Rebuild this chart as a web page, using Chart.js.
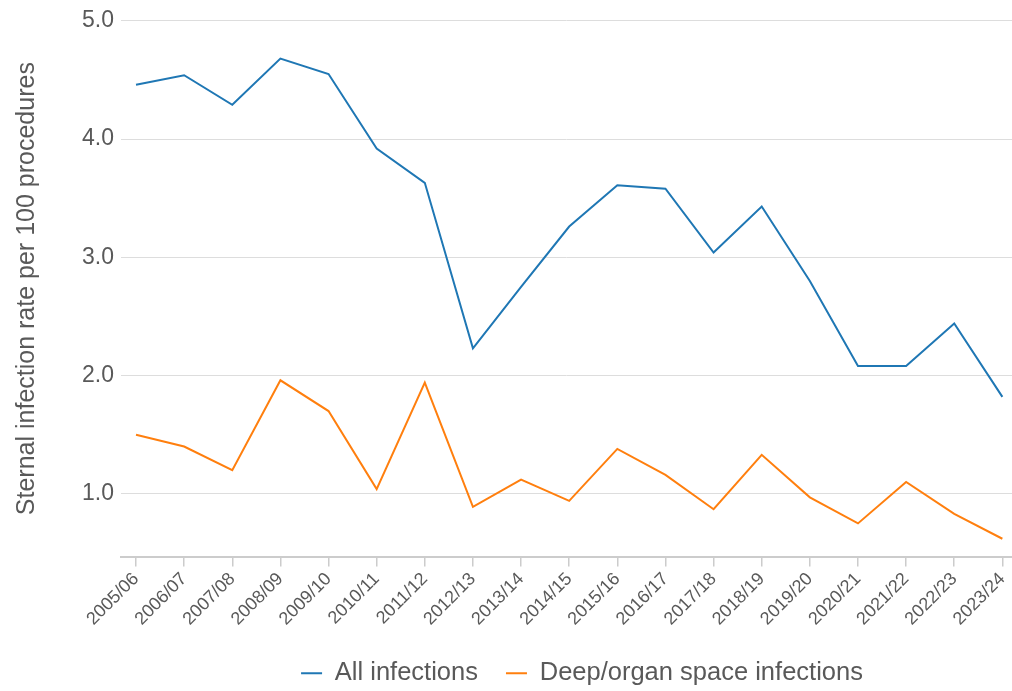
<!DOCTYPE html>
<html>
<head>
<meta charset="utf-8">
<script src="https://cdn.jsdelivr.net/npm/chart.js@4/dist/chart.umd.min.js"></script>
<style>
  html, body { margin: 0; padding: 0; background: #ffffff; overflow: hidden; }
  #wrap { width: 1012px; height: 691px; }
</style>
</head>
<body>
<div id="wrap"><canvas id="c" width="1012" height="691"></canvas></div>
<script>
const categories = ["2005/06","2006/07","2007/08","2008/09","2009/10","2010/11","2011/12","2012/13","2013/14","2014/15","2015/16","2016/17","2017/18","2018/19","2019/20","2020/21","2021/22","2022/23","2023/24"];
const allInfections = [4.46,4.54,4.29,4.68,4.55,3.92,3.63,2.23,2.75,3.26,3.61,3.58,3.04,3.43,2.80,2.08,2.08,2.44,1.82];
const deepInfections = [1.50,1.40,1.20,1.96,1.70,1.04,1.94,0.89,1.12,0.94,1.38,1.16,0.87,1.33,0.97,0.75,1.10,0.83,0.62];
const yTickValues = [1.0,2.0,3.0,4.0,5.0];
const seriesNames = ["All infections","Deep/organ space infections"];
const yTitle = "Sternal infection rate per 100 procedures";

const toPoints = arr => arr.map((v, i) => ({x: i, y: v}));
const textColor = "#595959";
const FONT = "'Liberation Sans', Arial, sans-serif";

// shift the legend so it sits where the reference has it
const legendShift = {
  id: 'legendShift',
  afterLayout(chart) {
    const lg = chart.legend;
    if (!lg) return;
    const dx = 76;
    lg.left += dx; lg.right += dx;
  }
};

new Chart(document.getElementById('c'), {
  type: 'line',
  data: {
    datasets: [
      { label: seriesNames[0], data: toPoints(allInfections), borderColor: '#1f77b4', backgroundColor: '#1f77b4', borderWidth: 2, pointRadius: 0, tension: 0, fill: false },
      { label: seriesNames[1], data: toPoints(deepInfections), borderColor: '#ff7f0e', backgroundColor: '#ff7f0e', borderWidth: 2, pointRadius: 0, tension: 0, fill: false }
    ]
  },
  plugins: [legendShift],
  options: {
    responsive: false,
    animation: false,
    devicePixelRatio: 1,
    layout: { padding: { top: 4, right: 0, bottom: -5, left: 0 } },
    plugins: {
      tooltip: { enabled: false },
      legend: {
        position: 'bottom',
        labels: {
          usePointStyle: true,
          pointStyle: 'line',
          pointStyleWidth: 21,
          color: textColor,
          font: { family: FONT, size: 25.5 },
          padding: 28
        }
      }
    },
    scales: {
      x: {
        type: 'linear',
        min: -0.312,
        max: 18.2,
        afterBuildTicks: axis => { axis.ticks = categories.map((c, i) => ({value: i})); },
        afterFit: axis => { axis.height = 76; axis.paddingRight = 0; axis.paddingLeft = 0; },
        ticks: {
          autoSkip: false,
          minRotation: 45,
          maxRotation: 45,
          color: textColor,
          font: { family: FONT, size: 18 },
          padding: 2,
          callback: v => categories[v]
        },
        grid: { drawOnChartArea: false, drawTicks: true, tickLength: 10, color: '#cccccc', lineWidth: 1.5 },
        border: { display: true, color: '#cccccc', width: 2 }
      },
      y: {
        min: 0.47,
        max: 5.0,
        afterBuildTicks: axis => { axis.ticks = yTickValues.map(v => ({value: v})); },
        afterFit: axis => { axis.width = 121; },
        ticks: {
          color: textColor,
          font: { family: FONT, size: 23 },
          padding: 7,
          callback: v => Number(v).toFixed(1)
        },
        grid: { color: '#dddddd', lineWidth: 1, drawTicks: false },
        border: { display: false },
        title: {
          display: true,
          text: yTitle,
          color: textColor,
          font: { family: FONT, size: 25 },
          padding: { top: 12, bottom: 0 }
        }
      }
    }
  }
});
</script>
</body>
</html>
